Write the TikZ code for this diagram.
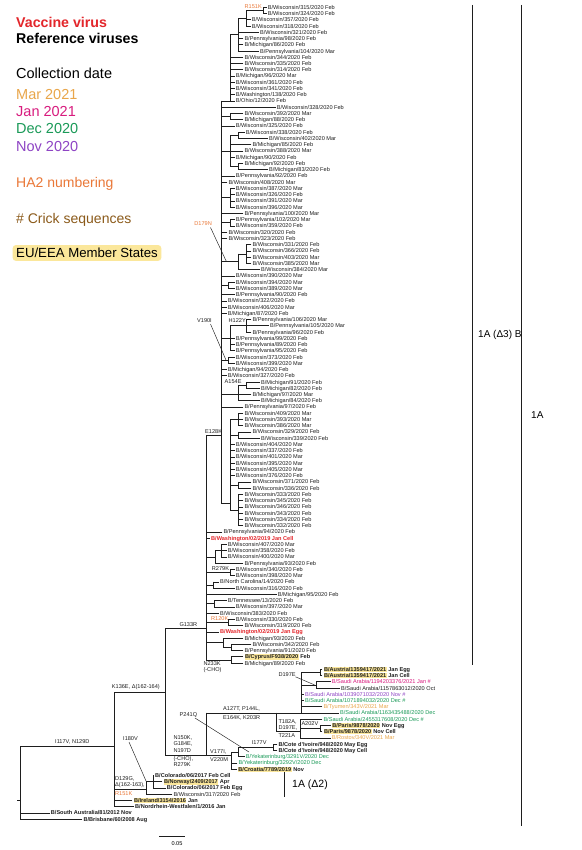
\documentclass[tikz,border=0pt]{standalone}
\usepackage{fontspec}
\setmainfont{Liberation Sans}
\usetikzlibrary{calc}
\definecolor{vred}{HTML}{E3262B}
\definecolor{mar}{HTML}{E9A64A}
\definecolor{jan}{HTML}{D81B7E}
\definecolor{dec}{HTML}{1A9A58}
\definecolor{nov}{HTML}{8E44C4}
\definecolor{ha2}{HTML}{EA7838}
\definecolor{crick}{HTML}{8B5A1A}
\definecolor{hly}{HTML}{FBE79B}
\definecolor{ink}{HTML}{1E1E1E}
\pgfmathdeclarefunction{ly}{1}{\pgfmathparse{1.055+6.245*#1}}
\setlength{\fboxsep}{0.5pt}
\newcommand\hlt[1]{\colorbox{hly}{#1}}
\newcounter{lfc}
\tikzset{
  br/.style={line width=0.6pt, draw=ink, line cap=rect},
  lbl/.style={anchor=base west, inner sep=0, text=ink, font=\fontsize{5.6}{6}\selectfont},
  bl/.style={font=\fontsize{5.6}{6}\selectfont\bfseries},
  mut/.style={anchor=base west, inner sep=0, text=ink, font=\fontsize{5.6}{6.4}\selectfont},
  leg/.style={anchor=base west, inner sep=0, font=\fontsize{14.5}{16}\selectfont},
  lead/.style={line width=0.45pt, draw=ink},
}
\newcommand\lf[5][]{\stepcounter{lfc}%
  \draw[br] (#3,{ly(#2)}) -- ({#4-1.3},{ly(#2)});
  \node[lbl,#1] (leaf\arabic{lfc}) at (#4,{ly(#2)+2}) {#5};}
\newcommand\vb[3]{\draw[br] (#1,{ly(#2)}) -- (#1,{ly(#3)});}
\newcommand\hb[3]{\draw[br] (#2,{ly(#1)}) -- (#3,{ly(#1)});}
\begin{document}
\begin{tikzpicture}[x=1pt,y=-1pt]
\fill[white] (0,0) rectangle (581,850);
\useasboundingbox (0,0) rectangle (581,850);
% ---------------- legend ----------------
\node[leg,text=vred,font=\fontsize{14.2}{16}\selectfont\bfseries] (lg1) at (16,27.3) {Vaccine virus};
\node[leg,text=black,font=\fontsize{14.2}{16}\selectfont\bfseries] (lg2) at (16,44) {Reference viruses};
\node[leg,text=black] (lg3) at (16,78.7) {Collection date};
\node[leg,text=mar] (lg4) at (16,99.3) {Mar 2021};
\node[leg,text=jan] (lg5) at (16,116.7) {Jan 2021};
\node[leg,text=dec] (lg6) at (16,134) {Dec 2020};
\node[leg,text=nov] (lg7) at (16,151.7) {Nov 2020};
\node[leg,text=ha2,font=\fontsize{14}{16}\selectfont] (lg8) at (16,187.3) {HA2 numbering};
\node[leg,text=crick,font=\fontsize{14}{16}\selectfont] (lg9) at (16,223.3) {\# Crick sequences};
\node[leg,fill=hly,rounded corners=3pt,inner xsep=3.5pt,inner ysep=3pt,font=\fontsize{13.2}{16}\selectfont] (lg10) at (12.5,257.7) {EU/EEA Member States};
% ---------------- clade A (top) ----------------
\lf{1}{263.3}{267.7}{B/Wisconsin/315/2020 Feb}
\lf{2}{263.3}{267.7}{B/Wisconsin/324/2020 Feb}
\vb{263.3}{1}{2}
\hb{1.5}{246.7}{263.3}
\node[mut,text=ha2] (m1) at (244.5,8.4) {R151K};
\lf{3}{246.7}{251.7}{B/Wisconsin/357/2020 Feb}
\lf{4}{246.7}{251.7}{B/Wisconsin/318/2020 Feb}
\vb{246.7}{1.5}{4}
\hb{2.75}{238.3}{246.7}
\lf{5}{238.3}{260}{B/Wisconsin/321/2020 Feb}
\lf{6}{238.3}{244.3}{B/Pennsylvania/98/2020 Feb}
\lf{7}{238.3}{244.3}{B/Michigan/86/2020 Feb}
\lf{8}{238.3}{260}{B/Pennsylvania/104/2020 Mar}
\vb{238.3}{2.75}{8}
\hb{5.375}{230}{238.3}
\lf{9}{230}{244.3}{B/Wisconsin/344/2020 Feb}
\lf{10}{230}{244.3}{B/Wisconsin/335/2020 Feb}
\lf{11}{230}{244.3}{B/Wisconsin/314/2020 Feb}
\lf{12}{230}{235.7}{B/Michigan/96/2020 Mar}
\lf{13}{230}{235.7}{B/Wisconsin/361/2020 Feb}
\lf{14}{230}{235.7}{B/Wisconsin/341/2020 Feb}
\lf{15}{230}{235.7}{B/Washington/138/2020 Feb}
\lf{16}{221.7}{235.7}{B/Ohio/12/2020 Feb}
\vb{230}{5.375}{16}
% ---------------- E128K backbone ----------------
\vb{221.7}{16}{80.5}
\lf{17}{221.7}{276.7}{B/Wisconsin/328/2020 Feb}
\lf{18}{230}{244.3}{B/Wisconsin/392/2020 Mar}
\lf{19}{230}{244.3}{B/Michigan/88/2020 Feb}
\vb{230}{18}{19}\hb{18.5}{221.7}{230}
\lf{20}{221.7}{235.7}{B/Wisconsin/325/2020 Feb}
\lf{21}{238.3}{245.7}{B/Wisconsin/338/2020 Feb}
\lf{22}{238.3}{269}{B/Wisconsin/402/2020 Mar}
\vb{238.3}{21}{22}\hb{21.5}{230}{238.3}
\lf{23}{230}{252.3}{B/Michigan/85/2020 Feb}
\lf{24}{230}{244.3}{B/Wisconsin/388/2020 Mar}
\lf{25}{230}{235.7}{B/Michigan/90/2020 Feb}
\lf{26}{238.3}{244.3}{B/Michigan/92/2020 Feb}
\lf{27}{238.3}{269}{B/Michigan/83/2020 Feb}
\vb{238.3}{26}{27}\hb{26.5}{230}{238.3}
\vb{230}{21.5}{26.5}\hb{24}{221.7}{230}
\lf{28}{221.7}{235.7}{B/Pennsylvania/92/2020 Feb}
\lf{29}{221.7}{228.3}{B/Wisconsin/408/2020 Mar}
\lf{30}{230}{235.7}{B/Wisconsin/387/2020 Mar}
\lf{31}{230}{235.7}{B/Wisconsin/326/2020 Feb}
\lf{32}{230}{235.7}{B/Wisconsin/391/2020 Mar}
\lf{33}{230}{235.7}{B/Wisconsin/396/2020 Mar}
\vb{230}{30}{33}\hb{31.5}{221.7}{230}
\lf{34}{221.7}{244.3}{B/Pennsylvania/100/2020 Mar}
\lf{35}{230}{235.7}{B/Pennsylvania/102/2020 Mar}
\lf{36}{230}{235.7}{B/Wisconsin/359/2020 Feb}
\vb{230}{35}{36}\hb{35.5}{221.7}{230}
\lf{37}{221.7}{228.3}{B/Wisconsin/320/2020 Feb}
\lf{38}{221.7}{228.3}{B/Wisconsin/323/2020 Feb}
\lf{39}{246.7}{252.3}{B/Wisconsin/331/2020 Feb}
\lf{40}{246.7}{252.3}{B/Wisconsin/366/2020 Feb}
\lf{41}{246.7}{252.3}{B/Wisconsin/403/2020 Mar}
\lf{42}{246.7}{252.3}{B/Wisconsin/385/2020 Mar}
\vb{246.7}{39}{42}\hb{40.5}{238.3}{246.7}
\lf{43}{238.3}{261}{B/Wisconsin/384/2020 Mar}
\vb{238.3}{40.5}{43}\hb{41.75}{221.7}{238.3}
\node[mut,text=ha2,anchor=base east] (m2) at (212,225.3) {D179N};
\draw[lead] (210.5,227.5) -- (226.5,{ly(41.75)});
\lf{44}{221.7}{235.7}{B/Wisconsin/390/2020 Mar}
\lf{45}{228.3}{235.7}{B/Wisconsin/394/2020 Mar}
\lf{46}{228.3}{235.7}{B/Wisconsin/389/2020 Mar}
\vb{228.3}{45}{46}\hb{45.5}{221.7}{228.3}
\lf{47}{221.7}{235.7}{B/Pennsylvania/90/2020 Feb}
\lf{48}{221.7}{227.7}{B/Wisconsin/322/2020 Feb}
\lf{49}{221.7}{227.7}{B/Wisconsin/406/2020 Mar}
\lf{50}{221.7}{227.7}{B/Michigan/87/2020 Feb}
\lf{51}{246.7}{252.3}{B/Pennsylvania/106/2020 Mar}
\lf{52}{246.7}{270}{B/Pennsylvania/105/2020 Mar}
\lf{53}{246.7}{252.3}{B/Pennsylvania/96/2020 Feb}
\vb{246.7}{51}{53}\hb{52}{230}{246.7}
\node[mut] (m3) at (228.5,322) {H122Y};
\lf{54}{230}{235.7}{B/Pennsylvania/99/2020 Feb}
\lf{55}{230}{235.7}{B/Pennsylvania/89/2020 Feb}
\lf{56}{230}{235.7}{B/Pennsylvania/95/2020 Feb}
\vb{230}{52}{56}\hb{54}{221.7}{230}
\lf{57}{228.3}{235.7}{B/Wisconsin/373/2020 Feb}
\lf{58}{228.3}{235.7}{B/Wisconsin/399/2020 Mar}
\vb{228.3}{57}{58}\hb{57.5}{221.7}{228.3}
\node[mut,anchor=base east] (m4) at (212,322) {V190I};
\draw[lead] (210.5,324) -- (226,{ly(57.5)});
\lf{59}{221.7}{227.7}{B/Michigan/94/2020 Feb}
\lf{60}{221.7}{227.7}{B/Wisconsin/327/2020 Feb}
\lf{61}{246.7}{261}{B/Michigan/91/2020 Feb}
\lf{62}{246.7}{261}{B/Michigan/82/2020 Feb}
\vb{246.7}{61}{62}\hb{61.5}{238.3}{246.7}
\node[mut,anchor=base east] (m5) at (241.7,383.6) {A154E};
\lf{63}{238.3}{252.3}{B/Michigan/97/2020 Mar}
\lf{64}{238.3}{261}{B/Michigan/84/2020 Feb}
\vb{238.3}{61.5}{64}\hb{63}{221.7}{238.3}
\lf{65}{221.7}{244.3}{B/Pennsylvania/97/2020 Feb}
\lf{66}{238.3}{244.3}{B/Wisconsin/409/2020 Mar}
\lf{67}{238.3}{244.3}{B/Wisconsin/393/2020 Mar}
\lf{68}{238.3}{244.3}{B/Wisconsin/386/2020 Mar}
\vb{238.3}{66}{68}\hb{67}{230}{238.3}
\lf{69}{238.3}{252.3}{B/Wisconsin/329/2020 Feb}
\lf{70}{238.3}{261}{B/Wisconsin/339/2020 Feb}
\vb{238.3}{69}{70}\hb{69.5}{230}{238.3}
\lf{71}{230}{235.7}{B/Wisconsin/404/2020 Mar}
\lf{72}{230}{235.7}{B/Wisconsin/337/2020 Feb}
\lf{73}{230}{235.7}{B/Wisconsin/401/2020 Mar}
\lf{74}{230}{235.7}{B/Wisconsin/395/2020 Mar}
\lf{75}{230}{235.7}{B/Wisconsin/405/2020 Mar}
\lf{76}{230}{235.7}{B/Wisconsin/376/2020 Feb}
\lf{77}{238.3}{252.3}{B/Wisconsin/371/2020 Feb}
\lf{78}{238.3}{252.3}{B/Wisconsin/336/2020 Feb}
\vb{238.3}{77}{78}\hb{77.5}{230}{238.3}
\lf{79}{238.3}{244.3}{B/Wisconsin/333/2020 Feb}
\lf{80}{238.3}{244.3}{B/Wisconsin/345/2020 Feb}
\lf{81}{238.3}{244.3}{B/Wisconsin/346/2020 Feb}
\lf{82}{238.3}{244.3}{B/Wisconsin/343/2020 Feb}
\lf{83}{238.3}{244.3}{B/Wisconsin/334/2020 Feb}
\lf{84}{238.3}{244.3}{B/Wisconsin/332/2020 Feb}
\vb{238.3}{79}{84}\hb{81.5}{230}{238.3}
\vb{230}{67}{81.5}\hb{80.5}{221.7}{230}
\hb{69.5}{206.7}{221.7}
\node[mut] (m6) at (205,433.6) {E128K};
% ---------------- G133R backbone ----------------
\vb{206.7}{69.5}{105.5}
\lf{85}{206.7}{223.3}{B/Pennsylvania/94/2020 Feb}
\lf[bl,text=vred]{86}{206.7}{211}{B/Washington/02/2019 Jan Cell}
\lf{87}{221.7}{227.7}{B/Wisconsin/407/2020 Mar}
\lf{88}{221.7}{227.7}{B/Wisconsin/358/2020 Feb}
\lf{89}{221.7}{227.7}{B/Wisconsin/400/2020 Mar}
\vb{221.7}{87}{89}\hb{88}{215}{221.7}
\lf{90}{215}{244.3}{B/Pennsylvania/93/2020 Feb}
\vb{215}{88}{90}\hb{89}{206.7}{215}
\lf{91}{230}{235.7}{B/Wisconsin/340/2020 Feb}
\lf{92}{230}{235.7}{B/Wisconsin/398/2020 Mar}
\vb{230}{91}{92}\hb{91.5}{206.7}{230}
\node[mut] (m7) at (211.7,570.4) {R279K};
\lf{93}{213.3}{220}{B/North Carolina/14/2020 Feb}
\lf{94}{213.3}{235.7}{B/Wisconsin/316/2020 Feb}
\vb{213.3}{93}{94}\hb{93.5}{206.7}{213.3}
\lf{95}{206.7}{277.7}{B/Michigan/95/2020 Feb}
\lf{96}{214.3}{227.7}{B/Tennessee/13/2020 Feb}
\lf{97}{214.3}{235.7}{B/Wisconsin/397/2020 Mar}
\vb{214.3}{96}{97}\hb{96.5}{206.7}{214.3}
\lf{98}{206.7}{220}{B/Wisconsin/383/2020 Feb}
\lf{99}{228.3}{235.7}{B/Wisconsin/330/2020 Feb}
\lf{100}{228.3}{244.3}{B/Wisconsin/319/2020 Feb}
\vb{228.3}{99}{100}\hb{99.5}{206.7}{228.3}
\node[mut,text=ha2] (m8) at (211,620.6) {R120K};
\lf[bl,text=vred]{101}{206.7}{220}{B/Washington/02/2019 Jan Egg}
\lf{102}{223.3}{244.3}{B/Michigan/93/2020 Feb}
\lf{103}{231.7}{252.3}{B/Wisconsin/342/2020 Feb}
\lf{104}{231.7}{244.3}{B/Pennsylvania/91/2020 Feb}
\vb{231.7}{103}{104}\hb{103.5}{223.3}{231.7}
\vb{223.3}{102}{103.5}\hb{102.75}{206.7}{223.3}
\lf{105}{231.7}{244.3}{\textbf{\hlt{B/Cyprus/F938/2020} Feb}}
\lf{106}{231.7}{244.3}{B/Michigan/89/2020 Feb}
\vb{231.7}{105}{106}\hb{105.5}{206.7}{231.7}
\node[mut] (m9) at (203.3,665.3) {N233K};
\node[mut] (m10) at (203.3,671.5) {(-CHO)};
\hb{100.5}{165}{206.7}
\node[mut] (m11) at (179.3,626.3) {G133R};
% ---------------- 1A(Delta2) ----------------
\lf[bl]{107}{320}{323.3}{\hlt{B/Austria/1359417/2021} Jan Egg}
\lf[bl]{108}{320}{323.3}{\hlt{B/Austria/1359417/2021} Jan Cell}
\vb{320}{107}{108}\hb{107.5}{301.7}{320}
\lf[text=jan]{109}{316.7}{331.7}{B/Saudi Arabia/1194203376/2021 Jan \#}
\lf{110}{316.7}{341}{B/Saudi Arabia/1157863012/2020 Oct}
\vb{316.7}{109}{110}\hb{109.5}{301.7}{316.7}
\node[mut] (m12) at (278.3,676.3) {D197E};
\draw[lead] (295.5,676.8) -- (314.5,{ly(109.5)});
\lf[text=nov]{111}{301.7}{305}{B/Saudi Arabia/1039071032/2020 Nov \#}
\lf[text=dec]{112}{301.7}{305}{B/Saudi Arabia/1071894032/2020 Dec \#}
\lf[text=mar]{113}{301.7}{323.3}{B/Tyumen/343V/2021 Mar}
\lf[text=dec]{114}{301.7}{340}{B/Saudi Arabia/1163435488/2020 Dec}
\vb{301.7}{107.5}{114}
\hb{114}{206.7}{301.7}
\node[mut] (m13) at (223,710.6) {A127T, P144L,};
\node[mut] (m14) at (223,719.6) {E164K, K203R};
\lf[text=dec]{115}{300}{323.3}{B/Saudi Arabia/2455317608/2020 Dec \#}
\lf[bl]{116}{320}{331.7}{\hlt{B/Paris/9878/2020} Nov Egg}
\lf[bl]{117}{320}{323.3}{\hlt{B/Paris/9878/2020} Nov Cell}
\vb{320}{116}{117}\hb{116.5}{300}{320}
\node[mut] (m15) at (301.3,725.3) {A202V};
\lf[text=mar]{118}{300}{331.7}{B/Rostov/340V/2021 Mar}
\vb{300}{115}{118}
\draw[br] (276.7,731.3) -- (300,731.3);
\draw[br] (276.7,{ly(114)}) -- (276.7,731.3);
\node[mut] (m16) at (278.3,723.5) {T182A,};
\node[mut] (m17) at (278.3,729.6) {D197E,};
\node[mut] (m18) at (278.3,737.6) {T221A};
\lf[bl]{119}{273.3}{278.3}{B/Cote d'Ivoire/948/2020 May Egg}
\lf[bl]{120}{273.3}{278.3}{B/Cote d'Ivoire/948/2020 May Cell}
\vb{273.3}{119}{120}\hb{119.5}{238.3}{273.3}
\node[mut] (m19) at (251.7,744.7) {I177V};
\lf[text=dec]{121}{238.3}{245.7}{B/Yekaterinburg/3291V/2020 Dec}
\vb{238.3}{119.5}{121}\hb{120.25}{231.7}{238.3}
\lf[text=dec]{122}{231.7}{238.3}{B/Yekaterinburg/3292V/2020 Dec}
\lf{123}{231.7}{237.7}{\textbf{\hlt{B/Croatia/7789/2019} Nov}}
\vb{231.7}{120.25}{123}
\draw[br] (206.7,755) -- (231.7,755);
\draw[br] (206.7,{ly(114)}) -- (206.7,755);
\node[mut] (m20) at (210,753.5) {V177I,};
\node[mut] (m21) at (210,761.5) {V220M};
\draw[br] (165,755) -- (206.7,755);
\node[mut] (m22) at (173.3,739.5) {N150K,};
\node[mut] (m23) at (173.3,745.8) {G184E,};
\node[mut] (m24) at (173.3,752.1) {N197D};
\node[mut] (m25) at (173.3,760.5) {(-CHO),};
\node[mut] (m26) at (173.3,766.8) {R279K};
\node[mut] (m27) at (179.5,716.7) {P241Q};
\draw[lead] (195,718) -- (249,{ly(120.25)});
\draw[br] (165,{ly(100.5)}) -- (165,755);
% 1A (Delta2) bar
\draw[line width=0.6pt,draw=ink] (284.3,772) -- (284.3,797);
\node[anchor=base west,inner sep=0,font=\fontsize{10.5}{12}\selectfont] (d2) at (292,787) {1A (Δ2)};
% ---------------- lower part ----------------
\hb{110.7}{114}{165}
\node[mut] (m28) at (111.7,688.7) {K136E, Δ(162-164)};
\lf[bl]{124}{153.3}{155}{B/Colorado/06/2017 Feb Cell}
\lf[bl]{125}{153.3}{163.3}{\hlt{B/Norway/2409/2017} Apr}
\lf[bl]{126}{153.3}{166.7}{B/Colorado/06/2017 Feb Egg}
\vb{153.3}{124}{126}\hb{125}{146.7}{153.3}
\lf{127}{146.7}{173.3}{B/Wisconsin/317/2020 Feb}
\vb{146.7}{125}{127}\hb{126.2}{114}{146.7}
\node[mut] (m29) at (115,780.8) {D129G,};
\node[mut] (m30) at (115,786.8) {Δ(162-163),};
\node[mut,text=ha2] (m31) at (115,795) {R151K};
\node[mut] (m32) at (123,740.3) {I180V};
\draw[lead] (129,742) -- (146.7,782.5);
\lf[bl]{128}{114}{133.3}{\hlt{B/Ireland/3154/2016} Jan}
\lf[bl]{129}{114}{135}{B/Nordrhein-Westfalen/1/2016 Jan}
\draw[br] (114,{ly(110.7)}) -- (114,{ly(129)});
\draw[br] (20.7,746) -- (114,746);
\node[mut] (m33) at (55,743.7) {I117V, N129D};
\lf[bl]{130}{20.7}{50.7}{B/South Australia/81/2012 Nov}
\lf[bl]{131}{20.7}{83.3}{B/Brisbane/60/2008 Aug}
\draw[br] (20.7,746) -- (20.7,{ly(131)});
\draw[br] (17.5,800) -- (20.7,800);
% scale bar
\draw[line width=0.6pt,draw=ink] (159.3,836.5) -- (185,836.5);
\node[anchor=base,inner sep=0,font=\fontsize{5.6}{6}\selectfont] (sc) at (177,845) {0.05};
% ---------------- right brackets ----------------
\draw[line width=0.6pt,draw=ink] (472.5,5) -- (472.5,665);
\node[anchor=base west,inner sep=0,font=\fontsize{10}{12}\selectfont] (b1) at (478,337.5) {1A (Δ3) B};
\draw[line width=0.6pt,draw=ink] (521,5) -- (521,826);
\node[anchor=base west,inner sep=0,font=\fontsize{10}{12}\selectfont] (b2) at (531,418.5) {1A};
\end{tikzpicture}
\end{document}
